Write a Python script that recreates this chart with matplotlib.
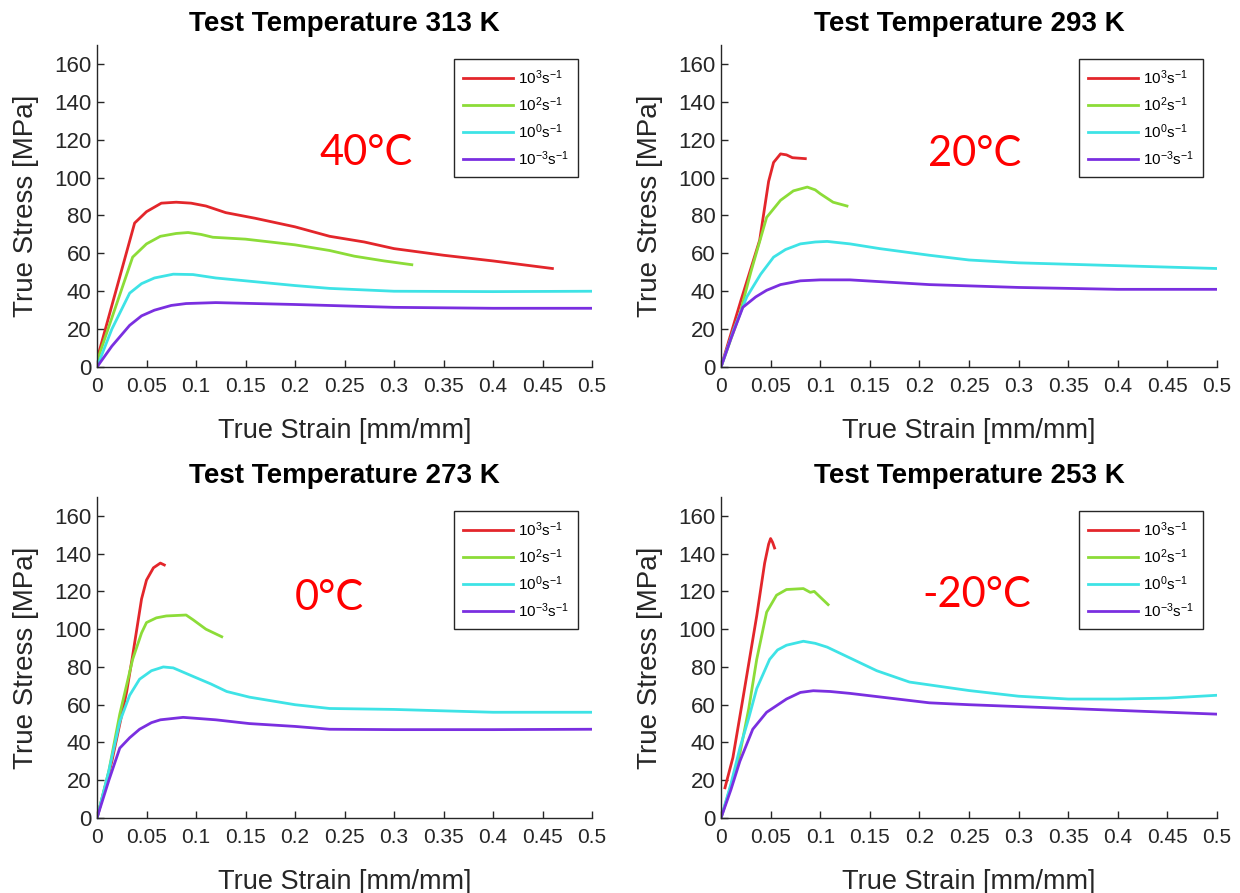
import matplotlib
matplotlib.use("Agg")
import matplotlib.pyplot as plt

plt.rcParams['font.family'] = ['Liberation Sans', 'DejaVu Sans']
plt.rcParams['mathtext.fontset'] = 'custom'
plt.rcParams['mathtext.rm'] = 'Liberation Sans'
plt.rcParams['mathtext.it'] = 'Liberation Sans'

# ---------------- data ----------------
titles = ["Test Temperature 313 K", "Test Temperature 293 K",
          "Test Temperature 273 K", "Test Temperature 253 K"]
temp_labels = ["40°C", "20°C", "0°C", "-20°C"]
rate_labels = [r"$10^{3}$s$^{-1}$", r"$10^{2}$s$^{-1}$",
               r"$10^{0}$s$^{-1}$", r"$10^{-3}$s$^{-1}$"]
x_ticks = [0, 0.05, 0.1, 0.15, 0.2, 0.25, 0.3, 0.35, 0.4, 0.45, 0.5]
x_tick_labels = ["0", "0.05", "0.1", "0.15", "0.2", "0.25", "0.3", "0.35", "0.4", "0.45", "0.5"]
y_ticks = [0, 20, 40, 60, 80, 100, 120, 140, 160]

# 313 K
strain_313_r = [0, 0.038, 0.05, 0.065, 0.08, 0.095, 0.11, 0.13, 0.16, 0.2, 0.235, 0.27, 0.3, 0.35, 0.4, 0.46]
stress_313_r = [4, 76, 82, 86.5, 87, 86.5, 85, 81.5, 78.5, 74, 69, 66, 62.5, 59, 56, 52]
strain_313_g = [0, 0.036, 0.05, 0.064, 0.08, 0.092, 0.105, 0.117, 0.15, 0.2, 0.235, 0.26, 0.29, 0.318]
stress_313_g = [3, 58, 65, 69, 70.5, 71, 70, 68.5, 67.5, 64.5, 61.5, 58.5, 56, 54]
strain_313_c = [0, 0.015, 0.033, 0.045, 0.058, 0.077, 0.097, 0.12, 0.15, 0.2, 0.235, 0.3, 0.4, 0.5]
stress_313_c = [0, 20, 39, 44, 47, 49, 48.8, 47, 45.5, 43, 41.5, 40, 39.8, 40]
strain_313_p = [0, 0.015, 0.033, 0.045, 0.058, 0.075, 0.09, 0.12, 0.2, 0.3, 0.4, 0.5]
stress_313_p = [0, 11, 22, 27, 30, 32.5, 33.5, 34, 33, 31.5, 31, 31]

# 293 K
strain_293_r = [0, 0.02, 0.039, 0.048, 0.053, 0.06, 0.066, 0.072, 0.085]
stress_293_r = [0, 35, 67, 98, 108, 112.5, 112, 110.5, 110]
strain_293_g = [0, 0.019, 0.03, 0.046, 0.06, 0.073, 0.087, 0.095, 0.1, 0.113, 0.127]
stress_293_g = [0, 28, 50, 79, 88, 93, 95, 93.5, 91.5, 87, 85]
strain_293_c = [0, 0.013, 0.026, 0.04, 0.053, 0.065, 0.08, 0.095, 0.107, 0.13, 0.16, 0.21, 0.25, 0.3, 0.4, 0.5]
stress_293_c = [0, 20, 37, 49, 58, 62, 65, 66, 66.3, 65, 62.5, 59, 56.5, 55, 53.5, 52]
strain_293_p = [0, 0.01, 0.022, 0.035, 0.046, 0.06, 0.08, 0.1, 0.13, 0.21, 0.3, 0.4, 0.5]
stress_293_p = [0, 15, 31.5, 37, 40.5, 43.5, 45.5, 46, 46, 43.5, 42, 41, 41]

# 273 K
strain_273_r = [0, 0.015, 0.03, 0.036, 0.045, 0.05, 0.057, 0.064, 0.068]
stress_273_r = [0, 30, 67, 86, 116, 126, 132.5, 135, 134]
strain_273_g = [0, 0.012, 0.023, 0.036, 0.045, 0.05, 0.06, 0.07, 0.09, 0.097, 0.11, 0.126]
stress_273_g = [0, 25, 55, 84, 98, 103.5, 106, 107, 107.5, 105, 100, 96]
strain_273_c = [0, 0.012, 0.023, 0.033, 0.043, 0.055, 0.067, 0.077, 0.097, 0.115, 0.131, 0.154, 0.2, 0.235, 0.3, 0.4, 0.5]
stress_273_c = [0, 25, 51, 65, 73.5, 78, 80, 79.5, 75, 71, 67, 64, 60, 58, 57.5, 56, 56]
strain_273_p = [0, 0.012, 0.023, 0.033, 0.043, 0.055, 0.064, 0.087, 0.12, 0.154, 0.2, 0.235, 0.3, 0.4, 0.5]
stress_273_p = [0, 20, 37, 42.5, 47, 50.5, 52, 53.3, 52, 50, 48.5, 47, 46.8, 46.8, 47]

# 253 K
strain_253_r = [0.004, 0.012, 0.022, 0.036, 0.044, 0.048, 0.05, 0.052, 0.054]
stress_253_r = [16, 32, 63, 107, 135, 145, 148, 146, 143]
strain_253_g = [0, 0.01, 0.019, 0.028, 0.036, 0.046, 0.056, 0.066, 0.083, 0.09, 0.094, 0.1, 0.108]
stress_253_g = [0, 17, 34, 58, 84, 109, 118, 121, 121.5, 119.5, 120, 117, 113]
strain_253_c = [0, 0.01, 0.019, 0.028, 0.036, 0.049, 0.057, 0.066, 0.083, 0.095, 0.107, 0.133, 0.157, 0.19, 0.21, 0.25, 0.3, 0.35, 0.4, 0.45, 0.5]
stress_253_c = [0, 18, 37, 53, 68.5, 84, 89, 91.5, 93.6, 92.5, 90.5, 84, 78, 72, 70.5, 67.5, 64.5, 63, 63, 63.5, 65]
strain_253_p = [0, 0.01, 0.019, 0.032, 0.046, 0.066, 0.08, 0.093, 0.11, 0.13, 0.17, 0.21, 0.25, 0.3, 0.4, 0.5]
stress_253_p = [0, 15, 30, 47, 56, 63, 66.5, 67.4, 67, 66, 63.5, 61, 60, 59, 57, 55]

panels = [
    [(strain_313_r, stress_313_r), (strain_313_g, stress_313_g), (strain_313_c, stress_313_c), (strain_313_p, stress_313_p)],
    [(strain_293_r, stress_293_r), (strain_293_g, stress_293_g), (strain_293_c, stress_293_c), (strain_293_p, stress_293_p)],
    [(strain_273_r, stress_273_r), (strain_273_g, stress_273_g), (strain_273_c, stress_273_c), (strain_273_p, stress_273_p)],
    [(strain_253_r, stress_253_r), (strain_253_g, stress_253_g), (strain_253_c, stress_253_c), (strain_253_p, stress_253_p)],
]

# ---------------- styling ----------------
colors = ['#e3262b', '#8cdc38', '#3ee3e6', '#7a2fe0']
axis_col = '#262626'
fig = plt.figure(figsize=(12.4, 8.93), dpi=100)

W, H = 1240, 893
boxes = [(97, 45, 592, 367), (721, 45, 1217, 367),
         (97, 497, 592, 818), (721, 497, 1217, 818)]
temp_pos = [(0.543, 0.665), (0.512, 0.66), (0.47, 0.685), (0.515, 0.695)]

for i, (x0, y0, x1, y1) in enumerate(boxes):
    ax = fig.add_axes([x0 / W, 1 - y1 / H, (x1 - x0) / W, (y1 - y0) / H])
    for (sx, sy), c, lab in zip(panels[i], colors, rate_labels):
        ax.plot(sx, sy, color=c, lw=2.0, label=lab)
    ax.set_xlim(0, 0.5)
    ax.set_ylim(0, 170)
    ax.set_xticks(x_ticks)
    ax.set_xticklabels(x_tick_labels)
    ax.set_yticks(y_ticks)
    for s in ['top', 'right']:
        ax.spines[s].set_visible(False)
    for s in ['left', 'bottom']:
        ax.spines[s].set_color(axis_col)
        ax.spines[s].set_linewidth(1.0)
    ax.tick_params(direction='in', length=5, width=1.0, color=axis_col,
                   labelcolor=axis_col)
    ax.tick_params(axis='x', labelsize=15, pad=7)
    ax.tick_params(axis='y', labelsize=16, pad=4)
    ax.set_xlabel("True Strain [mm/mm]", fontsize=19.5, color=axis_col, labelpad=16)
    ax.set_ylabel("True Stress [MPa]", fontsize=20, color=axis_col, labelpad=11)
    ax.set_title(titles[i], fontsize=20, fontweight='bold', color='black', pad=10)
    leg = ax.legend(loc='upper right', fontsize=11, frameon=True, fancybox=False,
                    edgecolor=axis_col, framealpha=1, handlelength=3.3,
                    labelspacing=0.55, borderaxespad=0.9, handletextpad=0.3,
                    borderpad=0.6)
    leg.get_frame().set_linewidth(1.0)
    tx, ty = temp_pos[i]
    ax.text(tx, ty, temp_labels[i], transform=ax.transAxes, color='#ff0000',
            fontsize=30, family=['Lato', 'DejaVu Sans'], ha='center', va='center')

fig.savefig("out.png", dpi=100)
